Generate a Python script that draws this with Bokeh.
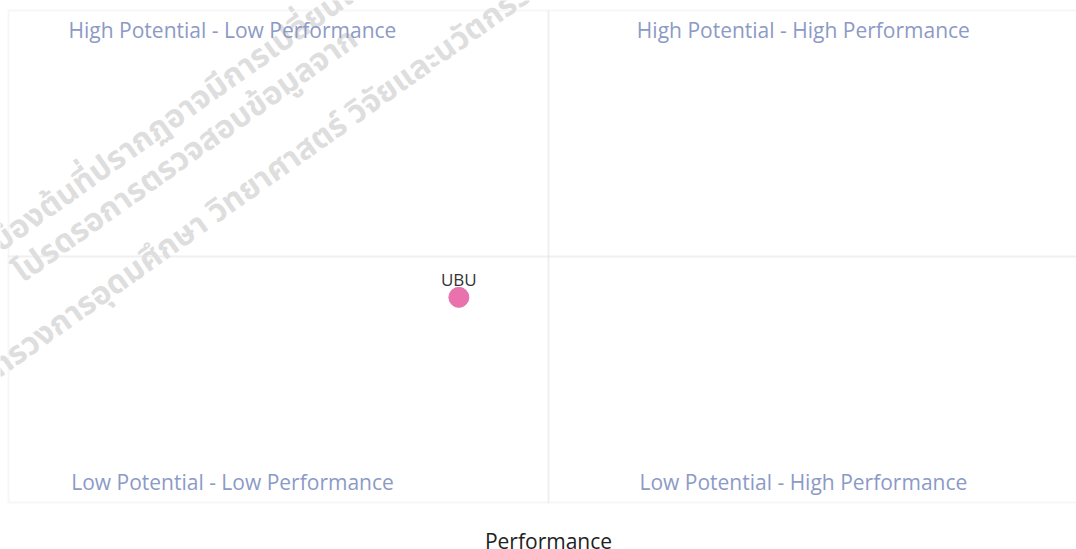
import math
from bokeh.plotting import figure
from bokeh.models import Label, Range1d, BoxAnnotation
from bokeh.core.properties import value
from bokeh.embed import file_html
from bokeh.resources import INLINE

# ---- data ----
names = ["UBU"]
performance = [41.7]
potential = [41.7]

quadrant_top = ["High Potential - Low Performance", "High Potential - High Performance"]
quadrant_bottom = ["Low Potential - Low Performance", "Low Potential - High Performance"]
x_label = "Performance"

watermark_lines = [
    "ข้อมูลเบื้องต้นที่ปรากฏอาจมีการเปลี่ยนแปลง",
    "โปรดรอการตรวจสอบข้อมูลจาก",
    "กระทรวงการอุดมศึกษา วิทยาศาสตร์ วิจัยและนวัตกรรม",
]

FONT = "Open Sans"
LINE = "#e1e1e1"
QCOL = "#8c9ac6"

W, H = 1076, 549
PXX, PXY = 10.8, 4.92          # pixels per data unit
BOX_L, BOX_T, BOX_B = 8, 10, 502  # page pixels of the quadrant box edges
x_start = -BOX_L / PXX
x_end = x_start + W / PXX
y_end = 100 + BOX_T / PXY
y_start = -(H - BOX_B) / PXY

p = figure(width=W, height=H, x_range=Range1d(x_start, x_end), y_range=Range1d(y_start, y_end),
           output_backend="svg", toolbar_location=None,
           x_axis_location=None, y_axis_location=None,
           min_border_left=0, min_border_right=0, min_border_top=0, min_border_bottom=0)
p.outline_line_color = None
p.grid.visible = False
p.background_fill_color = "white"
p.border_fill_color = "white"

def px2data(px, py):
    return (px - BOX_L) / PXX, (BOX_B - py) / PXY

# watermark
ang = math.radians(35.4)
wm_px = [(162.6, 124.5), (185, 155), (248.5, 188.2)]
for (wx, wy), t in zip(wm_px, watermark_lines):
    dx, dy = px2data(wx, wy)
    p.add_layout(Label(x=dx, y=dy, text=t, angle=ang, text_align="center",
                       text_baseline="middle", text_font="Noto Sans Thai", text_font_style="bold",
                       text_font_size="32px", text_color="#d0d0d0", text_alpha=0.7))

# quadrant boxes (border + dividers)
for l, r in [(0, 50), (50, 100)]:
    for b, t in [(0, 50), (50, 100)]:
        p.add_layout(BoxAnnotation(left=l, right=r, bottom=b, top=t, fill_color=None,
                                   line_color=LINE, line_width=2))

# quadrant labels
qx = [20.74, 73.6]
for xx, t in zip(qx, quadrant_top):
    p.add_layout(Label(x=xx, y=96.1, text=t, text_align="center", text_baseline="middle",
                       text_font=FONT, text_font_size="21px", text_color=QCOL))
for xx, t in zip(qx, quadrant_bottom):
    p.add_layout(Label(x=xx, y=4.1, text=t, text_align="center", text_baseline="middle",
                       text_font=FONT, text_font_size="21px", text_color=QCOL))

# point
p.scatter(performance, potential, size=20, color="#e972ad", line_color="#e972ad")
p.text(performance, potential, text=names, y_offset=-18, text_align="center",
       text_baseline="middle", text_font=value(FONT), text_font_size="17px", text_color="#333333")

# x-axis title below the quadrant box
lx, ly = px2data(548, 540)
p.add_layout(Label(x=lx, y=ly, text=x_label, text_align="center", text_baseline="middle",
                   text_font=FONT, text_font_size="21px", text_color="#222222"))

open("out.html", "w").write(file_html(p, INLINE))
